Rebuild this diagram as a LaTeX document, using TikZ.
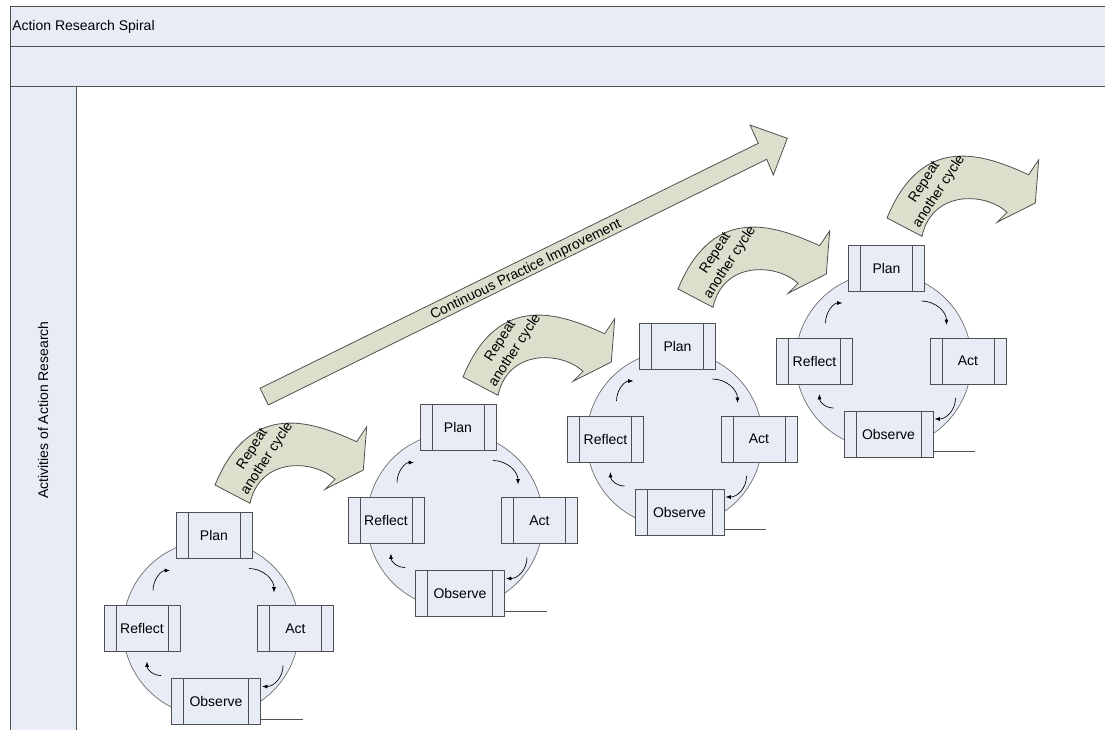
\documentclass[tikz,border=0pt]{standalone}
\usepackage{fontspec}
\setmainfont{Liberation Sans}
\usetikzlibrary{calc,arrows.meta}

\definecolor{lanefill}{RGB}{232,236,246}
\definecolor{bandfill}{RGB}{221,223,205}
\definecolor{edgegray}{RGB}{80,80,80}

\tikzset{
  phase/.style={draw=edgegray, fill=lanefill, line width=0.6pt, minimum width=57pt,
    minimum height=34.5pt, inner sep=0pt, font=\fontsize{10.5}{12}\selectfont,
    path picture={\draw[edgegray, line width=0.6pt]
      ([xshift=9pt]path picture bounding box.north west) -- ([xshift=9pt]path picture bounding box.south west)
      ([xshift=-9pt]path picture bounding box.north east) -- ([xshift=-9pt]path picture bounding box.south east);}},
  wide/.style={phase, minimum width=66.75pt},
  ring/.style={circle, draw=edgegray!85, fill=lanefill, line width=0.5pt, minimum size=132pt, inner sep=0pt},
  turn/.style={-{Latex[length=4pt,width=3pt]}, line width=0.5pt},
  band/.style={draw=edgegray, fill=bandfill, line width=0.6pt},
  note/.style={font=\fontsize{10.5}{13}\selectfont, align=center}
}

\begin{document}
\begin{tikzpicture}[x=0.75pt, y=-0.75pt]
    \useasboundingbox (0,0) rectangle (1105,729);
    \clip (0,0) rectangle (1105,729);
    % swimlane frame
    \fill[lanefill] (10,6) rectangle (1120,86.7);
    \fill[lanefill] (10,86.7) rectangle (76,740);
    \draw[edgegray, line width=0.6pt] (10,740) -- (10,6) -- (1120,6)
      (10,46.7) -- (1120,46.7) (10,86.7) -- (1120,86.7) (76,86.7) -- (76,740);
    \node[anchor=west, inner sep=0pt, font=\fontsize{10.5}{12}\selectfont] (title) at (12,26.7) {Action Research Spiral};
    \node[rotate=90, font=\fontsize{10.5}{12}\selectfont] (lane) at (43,410) {Activities of Action Research};

    % long arrow
    \draw[band] (260,388.3) -- (758.3,143.3) -- (750,125) -- (787.3,138.3) -- (773.3,175)
      -- (766.7,159.3) -- (268.3,405) -- cycle;
    \node[rotate=26.2, font=\fontsize{10.5}{12}\selectfont] (cpi) at (526,270) {Continuous Practice Improvement};

    % repeat arrows
    \foreach \i/\x/\y in {1/215/485, 2/463/377, 3/678/289, 4/887/218}{
      \draw[band, shift={(\x,\y)}] (0,0) .. controls (36,-88) and (100,-62) .. (141.7,-43.3)
        -- (151.7,-58.3) -- (148.3,-15) -- (110,4.3) -- (120,-5.7)
        .. controls (98,-26) and (45,-28) .. (35,18.3) -- cycle;
      \node[note, rotate=57] (rep\i) at ($(\x,\y)+(45,-31)$) {Repeat\\another cycle};
    }

    % cycles
    \foreach \i/\x/\y in {1/142/628.5, 2/386/520.5, 3/605.5/439, 4/814.5/361}{
      \node[ring] (ring\i) at (\x+69,\y) {};
      \node[phase] (plan\i) at (\x+72,\y-93) {Plan};
      \node[phase] (reflect\i) at (\x,\y) {Reflect};
      \node[phase] (act\i) at (\x+153.5,\y) {Act};
      \node[wide] (observe\i) at (\x+74,\y+73) {Observe};
      \coordinate (tail\i) at ($(observe\i.south east)+(42,-6)$);
      \draw[edgegray, line width=0.6pt] (observe\i.east |- tail\i) -- (tail\i);
      \draw[turn] ($(ring\i)+(38,-60)$) .. controls +(14,0) and +(0,-13) .. ($(ring\i)+(63,-36)$);
      \draw[turn] ($(ring\i)+(72,37)$) .. controls +(0,12) and +(12,0) .. ($(ring\i)+(51,58)$);
      \draw[turn] ($(ring\i)+(-50,47)$) .. controls +(-8,0) and +(0,8) .. ($(ring\i)+(-64,33)$);
      \draw[turn] ($(ring\i)+(-58,-38)$) .. controls +(0,-11) and +(-9,0) .. ($(ring\i)+(-41,-58)$);
    }
\end{tikzpicture}
\end{document}
